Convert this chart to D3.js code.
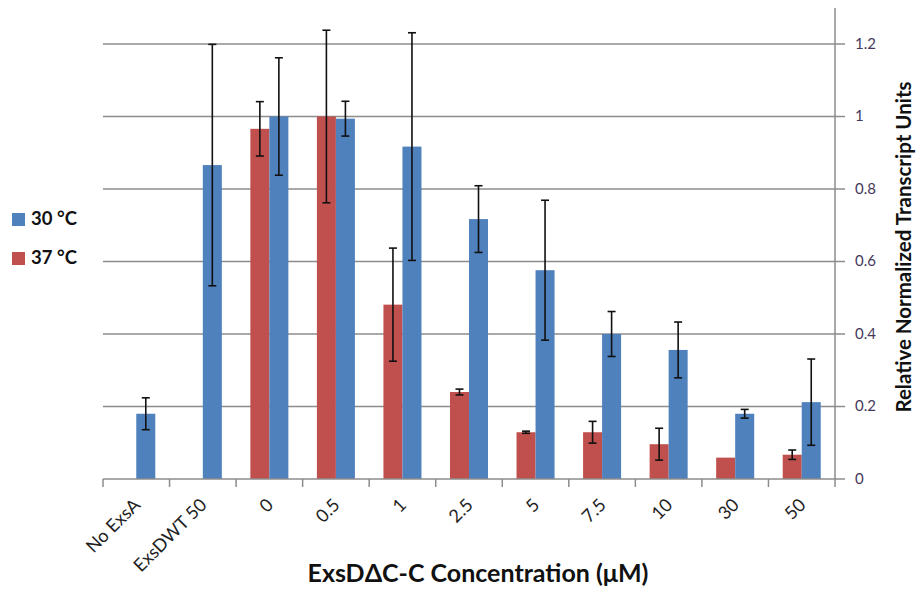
<!DOCTYPE html>
<html>
<head>
<meta charset="utf-8">
<script src="https://cdn.jsdelivr.net/npm/d3@7"></script>
<style>
  body { margin: 0; background: #fff; }
  svg { display: block; }
  text { font-family: Lato, "Open Sans", sans-serif; }
</style>
</head>
<body>
<div id="chart"></div>
<script>
// data
var categories = ["No ExsA", "ExsDWT 50", "0", "0.5", "1", "2.5", "5", "7.5", "10", "30", "50"];
var series = ["37", "30"];
var values30 = [0.18, 0.866, 1.0, 0.994, 0.917, 0.717, 0.576, 0.400, 0.356, 0.180, 0.212];
var errors30 = [0.044, 0.333, 0.162, 0.048, 0.314, 0.092, 0.193, 0.062, 0.077, 0.012, 0.119];
var values37 = [null, null, 0.966, 1.0, 0.481, 0.240, 0.129, 0.129, 0.096, 0.059, 0.067];
var errors37 = [null, null, 0.075, 0.238, 0.156, 0.008, 0.003, 0.030, 0.044, 0.0, 0.013];
var yTicks = [0, 0.2, 0.4, 0.6, 0.8, 1.0, 1.2];

var colors = {"30": "#4f81bd", "37": "#c0504d"};

var width = 920, height = 590;
var margin = {top: 44, right: 85, bottom: 111, left: 103};
var innerWidth = width - margin.left - margin.right,
    innerHeight = height - margin.top - margin.bottom;

var svg = d3.select("#chart").append("svg")
    .attr("width", width)
    .attr("height", height);

// scales work in page coordinates so texts can sit straight on the svg
var x = d3.scaleBand().domain(categories).range([margin.left, margin.left + innerWidth]);
var xSub = d3.scaleBand().domain(series).range([0, x.bandwidth()]).paddingOuter(0.75);
var y = d3.scaleLinear().domain([0, 1.2]).range([margin.top + innerHeight, margin.top]);
var right = margin.left + innerWidth,
    bottom = margin.top + innerHeight;

// flatten into rows for drawing
var rows = [];
categories.forEach(function(c, i) {
    if (values37[i] != null) rows.push({cat: c, s: "37", v: values37[i], e: errors37[i]});
    if (values30[i] != null) rows.push({cat: c, s: "30", v: values30[i], e: errors30[i]});
});

// gridlines
svg.append("g").selectAll("line")
    .data(yTicks.slice(1))
    .enter().append("line")
    .attr("x1", margin.left)
    .attr("x2", right)
    .attr("y1", function(d) { return y(d); })
    .attr("y2", function(d) { return y(d); })
    .attr("stroke", "#8c8c8c")
    .attr("stroke-width", 1.5);

// bars
svg.append("g").selectAll("rect")
    .data(rows)
    .enter().append("rect")
    .attr("x", function(d) { return x(d.cat) + xSub(d.s); })
    .attr("y", function(d) { return y(d.v); })
    .attr("width", xSub.bandwidth())
    .attr("height", function(d) { return bottom - y(d.v); })
    .attr("fill", function(d) { return colors[d.s]; });

// error bars
var eb = svg.append("g").selectAll("g")
    .data(rows.filter(function(d) { return d.e > 0; }))
    .enter().append("g")
    .attr("stroke", "#111")
    .attr("stroke-width", 1.6);

function cx(d) { return x(d.cat) + xSub(d.s) + xSub.bandwidth() / 2; }

eb.append("line")
    .attr("x1", cx).attr("x2", cx)
    .attr("y1", function(d) { return y(d.v + d.e); })
    .attr("y2", function(d) { return y(d.v - d.e); });
eb.append("line")
    .attr("x1", function(d) { return cx(d) - 4; })
    .attr("x2", function(d) { return cx(d) + 4; })
    .attr("y1", function(d) { return y(d.v + d.e); })
    .attr("y2", function(d) { return y(d.v + d.e); });
eb.append("line")
    .attr("x1", function(d) { return cx(d) - 4; })
    .attr("x2", function(d) { return cx(d) + 4; })
    .attr("y1", function(d) { return y(d.v - d.e); })
    .attr("y2", function(d) { return y(d.v - d.e); });

// x axis
svg.append("line")
    .attr("x1", margin.left).attr("x2", right)
    .attr("y1", bottom).attr("y2", bottom)
    .attr("stroke", "#8c8c8c").attr("stroke-width", 1.5);
svg.append("g").selectAll("line")
    .data(categories)
    .enter().append("line")
    .attr("x1", function(d) { return x(d); })
    .attr("x2", function(d) { return x(d); })
    .attr("y1", bottom).attr("y2", bottom + 8)
    .attr("stroke", "#8c8c8c").attr("stroke-width", 1.5);
svg.selectAll(".xlabel")
    .data(categories)
    .enter().append("text")
    .attr("class", "xlabel")
    .attr("transform", function(d) {
        return "translate(" + (x(d) + x.bandwidth() / 2 - 4) + "," + (bottom + 18) + ") rotate(-45)";
    })
    .attr("text-anchor", "end")
    .attr("dy", "0.71em")
    .attr("font-size", 18)
    .attr("fill", "#222")
    .text(function(d) { return d; });

// right y axis
svg.append("line")
    .attr("x1", right).attr("x2", right)
    .attr("y1", margin.top - 36).attr("y2", bottom + 8)
    .attr("stroke", "#8c8c8c").attr("stroke-width", 1.5);
svg.append("g").selectAll("line")
    .data(yTicks)
    .enter().append("line")
    .attr("x1", right).attr("x2", right + 10)
    .attr("y1", function(d) { return y(d); })
    .attr("y2", function(d) { return y(d); })
    .attr("stroke", "#8c8c8c").attr("stroke-width", 1.5);
svg.selectAll(".ylabel")
    .data(yTicks)
    .enter().append("text")
    .attr("class", "ylabel")
    .attr("x", right + 20)
    .attr("y", function(d) { return y(d); })
    .attr("dy", "0.32em")
    .attr("font-size", 15)
    .attr("fill", "#45385a")
    .text(function(d) { return String(+d.toFixed(1)); });

// axis titles
svg.append("text")
    .attr("x", 478)
    .attr("y", 582)
    .attr("text-anchor", "middle")
    .attr("font-size", 25)
    .attr("font-weight", "bold")
    .attr("fill", "#111")
    .text("ExsDΔC-C Concentration (μM)");

svg.append("text")
    .attr("transform", "translate(911,247) rotate(-90)")
    .attr("text-anchor", "middle")
    .attr("font-size", 20.5)
    .attr("font-weight", "bold")
    .attr("fill", "#111")
    .text("Relative Normalized Transcript Units");

// legend
var legendKeys = ["30", "37"];
svg.selectAll(".lkey")
    .data(legendKeys)
    .enter().append("rect")
    .attr("class", "lkey")
    .attr("x", 12)
    .attr("y", function(d, i) { return 213 + i * 39; })
    .attr("width", 13).attr("height", 13)
    .attr("fill", function(d) { return colors[d]; });
svg.selectAll(".ltext")
    .data(legendKeys)
    .enter().append("text")
    .attr("class", "ltext")
    .attr("x", 31)
    .attr("y", function(d, i) { return 225 + i * 39; })
    .attr("font-size", 18.5)
    .attr("font-weight", "bold")
    .attr("fill", "#111")
    .text(function(d) { return d + " °C"; });
</script>
</body>
</html>
